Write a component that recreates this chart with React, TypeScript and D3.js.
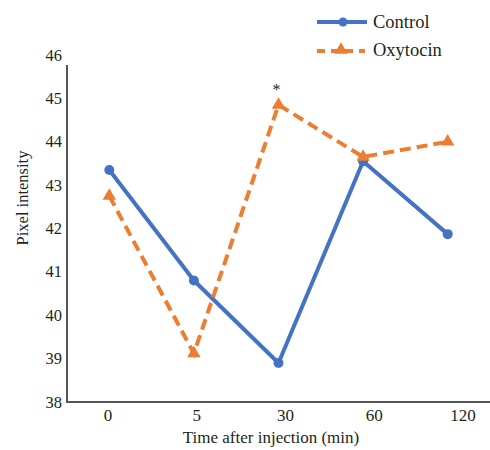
import React from "react";
import * as d3 from "d3";

const categories = ["0", "5", "30", "60", "120"];
const controlValues = [43.35, 40.8, 38.9, 43.55, 41.87];
const oxytocinValues = [42.75, 39.12, 44.85, 43.65, 44.0];
const yTicks = [38, 39, 40, 41, 42, 43, 44, 45, 46];
const seriesNames = ["Control", "Oxytocin"];
const significance = [{ category: "30", value: 44.85, label: "*" }];

const W = 490;
const H = 450;
const FONT = "'Liberation Serif', 'Times New Roman', serif";
const BLUE = "#4472C4";
const ORANGE = "#ED7D31";
const TEXT = "#231f20";

export default function App() {
  const x = d3.scalePoint<string>().domain(categories).range([67, 490]).padding(0.5);
  // tick labels in the original sit on a slightly wider spacing than the points
  const xLabel = d3.scalePoint<string>().domain(categories).range([108, 463]);
  const y = d3.scaleLinear().domain([38, 46]).range([402, 55]);
  const line = d3
    .line<number>()
    .x((_, i) => x(categories[i]) as number)
    .y((d) => y(d));

  const tri = d3.symbol().type(d3.symbolTriangle).size(78)() as string;

  return (
    <svg width={W} height={H} fontFamily={FONT} fill={TEXT} style={{ position: "absolute", left: 0, top: 0, background: "#fff" }}>
      {/* axes */}
      <line x1={67} x2={67} y1={65} y2={403} stroke="#555" strokeWidth={2} />
      <line x1={66} x2={490} y1={402} y2={402} stroke="#555" strokeWidth={2} />
      {yTicks.map((t) => (
        <text key={t} x={62} y={y(t) + 5.5} textAnchor="end" fontSize={16.5}>
          {t}
        </text>
      ))}
      {categories.map((c) => (
        <text key={c} x={xLabel(c)} y={421} textAnchor="middle" fontSize={17}>
          {c}
        </text>
      ))}
      <text x={271} y={443} textAnchor="middle" fontSize={17}>
        Time after injection (min)
      </text>
      <text transform="translate(28,198) rotate(-90)" textAnchor="middle" fontSize={16.5}>
        Pixel intensity
      </text>

      {/* series */}
      <path d={line(controlValues) as string} fill="none" stroke={BLUE} strokeWidth={4} strokeLinejoin="round" />
      {controlValues.map((v, i) => (
        <circle key={i} cx={x(categories[i])} cy={y(v)} r={5} fill={BLUE} />
      ))}
      <path d={line(oxytocinValues) as string} fill="none" stroke={ORANGE} strokeWidth={4} strokeDasharray="11 6" />
      {oxytocinValues.map((v, i) => (
        <path key={i} d={tri} transform={`translate(${x(categories[i])},${y(v)})`} fill={ORANGE} />
      ))}

      {significance.map((s) => (
        <text key={s.category} x={(x(s.category) as number) - 2} y={y(s.value) - 10} textAnchor="middle" fontSize={16}>
          {s.label}
        </text>
      ))}

      {/* legend */}
      <line x1={317} x2={367} y1={22} y2={22} stroke={BLUE} strokeWidth={4} />
      <circle cx={343} cy={22} r={4.5} fill={BLUE} />
      <text x={373} y={28} fontSize={18.5}>
        {seriesNames[0]}
      </text>
      <line x1={317} x2={365} y1={51} y2={51} stroke={ORANGE} strokeWidth={4} strokeDasharray="8 6" />
      <path d={tri} transform="translate(341,50)" fill={ORANGE} />
      <text x={373} y={56} fontSize={18.5}>
        {seriesNames[1]}
      </text>
    </svg>
  );
}
